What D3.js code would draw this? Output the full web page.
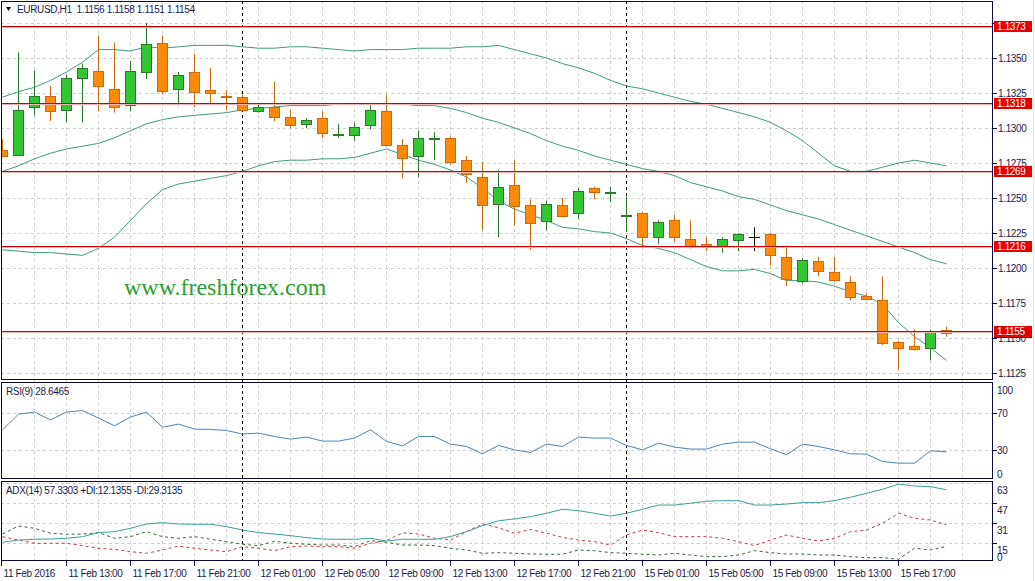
<!DOCTYPE html>
<html><head><meta charset="utf-8">
<script src="https://cdn.jsdelivr.net/npm/d3@7"></script>
<style>
html,body{margin:0;padding:0;background:#fff;overflow:hidden}
svg{display:block}
text{font-family:"Liberation Sans",Arial,sans-serif;font-size:10px;letter-spacing:-0.35px}
</style></head><body>
<script>
// ---------- DATA ----------
const times = [
 "11 Feb 09:00","11 Feb 10:00","11 Feb 11:00","11 Feb 12:00","11 Feb 13:00","11 Feb 14:00","11 Feb 15:00","11 Feb 16:00",
 "11 Feb 17:00","11 Feb 18:00","11 Feb 19:00","11 Feb 20:00","11 Feb 21:00","11 Feb 22:00","11 Feb 23:00",
 "12 Feb 00:00","12 Feb 01:00","12 Feb 02:00","12 Feb 03:00","12 Feb 04:00","12 Feb 05:00","12 Feb 06:00","12 Feb 07:00",
 "12 Feb 08:00","12 Feb 09:00","12 Feb 10:00","12 Feb 11:00","12 Feb 12:00","12 Feb 13:00","12 Feb 14:00","12 Feb 15:00",
 "12 Feb 16:00","12 Feb 17:00","12 Feb 18:00","12 Feb 19:00","12 Feb 20:00","12 Feb 21:00","12 Feb 22:00","12 Feb 23:00",
 "15 Feb 00:00","15 Feb 01:00","15 Feb 02:00","15 Feb 03:00","15 Feb 04:00","15 Feb 05:00","15 Feb 06:00","15 Feb 07:00",
 "15 Feb 08:00","15 Feb 09:00","15 Feb 10:00","15 Feb 11:00","15 Feb 12:00","15 Feb 13:00","15 Feb 14:00","15 Feb 15:00",
 "15 Feb 16:00","15 Feb 17:00","15 Feb 18:00","15 Feb 19:00","15 Feb 20:00"];
const open = [1.1284,1.1281,1.1315,1.1323,1.1313,1.1336,1.1341,1.1328,1.1317,1.1340,1.1361,1.1328,1.1340,1.1327,1.1323,
 1.1322,1.1312,1.1315,1.1308,1.1303,1.1307,1.1295,1.1295,1.1302,1.1312,1.1288,1.1280,1.1292,1.1293,1.1277,1.1265,
 1.1246,1.1259,1.1245,1.1234,1.1245,1.1239,1.1257,1.1253,1.1237,1.1239,1.1222,1.1234,1.1221,1.1217,1.1216,1.1220,
 1.1222,1.1224,1.1208,1.1191,1.1205,1.1197,1.1190,1.1180,1.1177,1.1147,1.1144,1.1143,1.1156];
const high = [1.1292,1.1354,1.1341,1.1330,1.1338,1.1346,1.1366,1.1361,1.1348,1.1375,1.1366,1.1340,1.1353,1.1343,1.1327,
 1.1324,1.1318,1.1333,1.1313,1.1307,1.1312,1.1303,1.1304,1.1318,1.1324,1.1292,1.1298,1.1297,1.1294,1.1280,1.1276,
 1.1270,1.1277,1.1249,1.1248,1.1250,1.1257,1.1258,1.1258,1.1251,1.1240,1.1234,1.1238,1.1234,1.1222,1.1222,1.1225,
 1.1229,1.1225,1.1216,1.1207,1.1208,1.1208,1.1194,1.1182,1.1194,1.1148,1.1156,1.1156,1.1158];
const low = [1.1279,1.1280,1.1309,1.1305,1.1304,1.1304,1.1312,1.1311,1.1312,1.1335,1.1324,1.1316,1.1315,1.1317,1.1313,
 1.1312,1.1311,1.1305,1.1300,1.1300,1.1293,1.1293,1.1291,1.1299,1.1287,1.1264,1.1265,1.1277,1.1274,1.1261,1.1227,
 1.1222,1.1230,1.1213,1.1227,1.1236,1.1235,1.1249,1.1247,1.1226,1.1215,1.1217,1.1219,1.1214,1.1212,1.1211,1.1212,
 1.1212,1.1202,1.1187,1.1189,1.1194,1.1190,1.1177,1.1177,1.1145,1.1127,1.1141,1.1134,1.1151];
const close = [1.1280,1.1313,1.1323,1.1312,1.1336,1.1343,1.1330,1.1315,1.1341,1.1360,1.1327,1.1338,1.1326,1.1325,1.1322,
 1.1313,1.1315,1.1308,1.1302,1.1306,1.1296,1.1296,1.1301,1.1313,1.1288,1.1279,1.1293,1.1293,1.1276,1.1267,1.1245,
 1.1258,1.1244,1.1232,1.1246,1.1237,1.1255,1.1254,1.1254,1.1238,1.1222,1.1233,1.1222,1.1216,1.1215,1.1221,1.1224,
 1.1222,1.1209,1.1192,1.1206,1.1198,1.1191,1.1179,1.1178,1.1146,1.1143,1.1142,1.1155,1.1154];
const bbUpper = [1.1322,1.1326,1.1329,1.1334,1.1340,1.1347,1.1356,1.1356,1.1355,1.1358,1.1357,1.1358,1.1359,1.1359,1.1359,
 1.1358,1.1357,1.1357,1.1358,1.1358,1.1357,1.1356,1.1355,1.1356,1.1356,1.1356,1.1357,1.1357,1.1357,1.1358,1.1358,
 1.1359,1.1356,1.1353,1.1350,1.1346,1.1343,1.1339,1.1334,1.1330,1.1328,1.1325,1.1322,1.1319,1.1317,1.1314,1.1311,
 1.1308,1.1304,1.1298,1.1291,1.1282,1.1273,1.1269,1.1269,1.1272,1.1275,1.1277,1.1275,1.1273];
const bbMiddle = [1.1269,1.1273,1.1278,1.1282,1.1285,1.1287,1.1289,1.1293,1.1298,1.1303,1.1306,1.1308,1.1309,1.1310,1.1311,
 1.1313,1.1314,1.1315,1.1316,1.1316,1.1316,1.1317,1.1317,1.1317,1.1317,1.1317,1.1316,1.1316,1.1314,1.1311,1.1307,
 1.1304,1.1300,1.1296,1.1291,1.1287,1.1284,1.1280,1.1277,1.1274,1.1271,1.1269,1.1266,1.1261,1.1258,1.1255,1.1251,
 1.1249,1.1245,1.1241,1.1238,1.1235,1.1231,1.1227,1.1223,1.1219,1.1215,1.1211,1.1206,1.1203];
const bbLower = [1.1213,1.1212,1.1211,1.1211,1.1210,1.1209,1.1214,1.1222,1.1234,1.1246,1.1256,1.1260,1.1262,1.1264,1.1266,
 1.1269,1.1273,1.1276,1.1277,1.1277,1.1278,1.1278,1.1279,1.1282,1.1285,1.1281,1.1277,1.1274,1.1270,1.1265,1.1257,
 1.1248,1.1242,1.1238,1.1234,1.1229,1.1228,1.1226,1.1225,1.1221,1.1216,1.1214,1.1211,1.1206,1.1201,1.1198,1.1198,
 1.1199,1.1196,1.1191,1.1191,1.1190,1.1187,1.1183,1.1180,1.1174,1.1161,1.1151,1.1143,1.1134];
const rsi = [51.8,68.3,70.4,62.3,70.4,72.1,64.1,56.0,65.2,70.4,54.6,57.8,52.5,52.2,51.1,47.3,48.3,44.7,42.0,44.1,
 39.9,39.9,43.1,51.8,39.5,34.9,44.7,44.7,36.7,34.2,26.5,35.3,30.7,27.9,36.7,34.2,44.1,43.1,43.1,35.3,
 30.7,37.8,33.6,31.5,31.5,36.7,38.8,38.8,31.8,25.5,36.7,34.2,30.7,26.5,26.2,18.4,16.7,16.7,29.7,28.6];
const adx = [15.3,17.1,17.7,17.9,18.5,19.8,23.0,23.8,26.5,29.9,31.0,29.9,29.7,29.7,27.8,25.1,23.0,21.9,20.6,19.0,
 17.9,17.7,17.7,18.5,16.3,17.7,17.7,17.7,19.8,23.8,28.6,32.5,34.0,35.8,38.5,41.7,40.6,38.5,36.3,38.5,
 41.7,45.1,45.1,46.5,48.1,48.6,48.6,45.1,45.1,45.9,47.0,47.0,48.6,51.3,54.5,57.7,61.7,60.3,59.8,57.3];
const plusDI = [21.9,28.3,26.5,22.5,21.7,21.9,23.0,18.5,19.8,23.8,19.8,18.5,19.8,17.7,15.8,13.7,12.6,16.1,14.5,13.7,
 13.1,13.1,11.8,16.6,15.3,13.1,13.1,12.6,10.5,9.1,6.5,7.0,6.5,5.9,5.7,5.7,9.1,8.6,7.0,6.5,
 5.7,5.1,6.5,5.1,3.8,3.8,5.1,8.6,7.0,5.9,5.9,5.1,5.1,3.8,3.0,3.0,1.7,10.5,9.1,12.1];
const minusDI = [19.8,17.1,14.5,14.5,14.5,12.6,10.5,9.7,7.8,6.5,9.1,12.3,10.5,9.1,7.8,11.8,10.5,8.6,11.8,12.3,
 11.8,11.8,10.5,14.5,16.6,22.9,21.9,18.5,17.1,23.8,29.9,27.0,22.5,25.6,22.5,19.2,17.1,15.8,13.1,21.1,
 25.1,23.0,19.8,19.8,19.8,18.5,15.8,12.6,17.1,21.1,18.5,16.3,18.5,23.8,25.1,30.5,38.5,34.5,33.1,29.3];
const levels = [1.1373, 1.1318, 1.1269, 1.1216, 1.1155];
const bid = 1.1154;
const priceTicks = [1.1125,1.1150,1.1175,1.1200,1.1225,1.1250,1.1275,1.1300,1.1325,1.1350,1.1375];
const priceTickLabels = ["1.1125","1.1150","1.1175","1.1200","1.1225","1.1250","1.1275","1.1300","1.1325","1.1350",""];
const rsiTicks = [100,70,30,0];
const adxTicks = [63,47,31,15,0];
const xTickBars = ["11 Feb 09:00","11 Feb 13:00","11 Feb 17:00","11 Feb 21:00","12 Feb 01:00","12 Feb 05:00","12 Feb 09:00",
 "12 Feb 13:00","12 Feb 17:00","12 Feb 21:00","15 Feb 01:00","15 Feb 05:00","15 Feb 09:00","15 Feb 13:00","15 Feb 17:00"];
const xTickLabels = ["11 Feb 2016","11 Feb 13:00","11 Feb 17:00","11 Feb 21:00","12 Feb 01:00","12 Feb 05:00","12 Feb 09:00",
 "12 Feb 13:00","12 Feb 17:00","12 Feb 21:00","15 Feb 01:00","15 Feb 05:00","15 Feb 09:00","15 Feb 13:00","15 Feb 17:00"];
const separators = ["12 Feb 00:00","15 Feb 00:00"];
const header = "EURUSD,H1  1.1156 1.1158 1.1151 1.1154";
const rsiTitle = "RSI(9) 28.6465";
const adxTitle = "ADX(14) 57.3303 +DI:12.1355 -DI:29.3135";
const watermark = "www.freshforex.com";

// ---------- LAYOUT ----------
const W = 1035, H = 581;
const L = 1, R = 993;
const P = {main:[1,380], rsi:[382,479], adx:[481,561]};
const frame = "#0b0b3b", axisText = "#1a1a4e", gridC = "#cfcfcf";
const svg = d3.select("body").append("svg").attr("width", W).attr("height", H);

const x = d3.scaleLinear().domain([0, times.length - 1]).range([2.5, 946.5]);
const y = d3.scaleLinear().domain([1.1120, 1.1390]).range([380, 2]);
const yR = d3.scaleLinear().domain([0, 100]).range([479, 384]);
const yA = d3.scaleLinear().domain([0, 64]).range([561.4, 481.4]);

const defs = svg.append("defs");
Object.entries(P).forEach(([k,[t,b]]) => {
  defs.append("clipPath").attr("id","clip-"+k).append("rect")
    .attr("x", L+0.5).attr("y", t+0.5).attr("width", R-L-1).attr("height", b-t-1);
});

// grids
const grid = svg.append("g").attr("stroke", gridC).attr("stroke-dasharray","3,3").attr("stroke-width",1);
const vIdx = d3.range(2, times.length + 1, 2);
vIdx.forEach(i => {
  grid.append("line").attr("x1", Math.floor(x(i))+0.5).attr("x2", Math.floor(x(i))+0.5)
    .attr("y1", P.main[0]).attr("y2", P.adx[1]);
});
priceTicks.forEach(p => grid.append("line").attr("x1", L).attr("x2", R)
  .attr("y1", Math.round(y(p))+0.5).attr("y2", Math.round(y(p))+0.5));
[70,30].forEach(v => grid.append("line").attr("x1", L).attr("x2", R)
  .attr("y1", Math.round(yR(v))+0.5).attr("y2", Math.round(yR(v))+0.5));
[63,47,31,15].forEach(v => grid.append("line").attr("x1", L).attr("x2", R)
  .attr("y1", Math.round(yA(v))+0.5).attr("y2", Math.round(yA(v))+0.5));

// watermark
svg.append("text").text(watermark).attr("x", 124).attr("y", 295)
  .style("font-family", "'Liberation Serif','Times New Roman',serif").style("font-size","24px")
  .style("letter-spacing","0px").attr("fill", "#2f9f2f");

// day separators
separators.forEach(s => {
  const xx = Math.floor(x(times.indexOf(s))) + 0.5;
  svg.append("line").attr("x1", xx).attr("x2", xx).attr("y1", 1).attr("y2", P.adx[1])
    .attr("stroke", "#000").attr("stroke-dasharray", "3,3");
});

// main panel
const gm = svg.append("g").attr("clip-path", "url(#clip-main)");
const band = d3.line().x((d,i) => x(i)).y(d => y(d));
[bbUpper, bbMiddle, bbLower].forEach(arr => gm.append("path").attr("d", band(arr))
  .attr("fill","none").attr("stroke","#3f9c7c").attr("stroke-width",1));

const idx = d3.range(times.length);
const bull = "#33c633", bullS = "#2b7a2b", bear = "#ff8a0a", bearS = "#d0680c";
const colorOf = i => close[i] > open[i] ? bullS : close[i] < open[i] ? bearS : "#000";
gm.selectAll("line.wick").data(idx).join("line").attr("class","wick")
  .attr("x1", i => x(i)).attr("x2", i => x(i))
  .attr("y1", i => y(high[i])).attr("y2", i => y(low[i]))
  .attr("stroke", colorOf).attr("stroke-width", 1);
gm.selectAll("rect.body").data(idx).join("rect").attr("class","body")
  .attr("x", i => x(i) - 5).attr("width", 10)
  .attr("y", i => Math.round(y(Math.max(open[i], close[i]))) + 0.5)
  .attr("height", i => Math.max(0.01, Math.round(Math.abs(y(open[i]) - y(close[i])))))
  .attr("fill", i => close[i] > open[i] ? bull : close[i] < open[i] ? bear : "none")
  .attr("stroke", colorOf).attr("stroke-width", 1);

// level lines (dark red row with a light halo row below)
levels.forEach(l => {
  const yy = Math.round(y(l)) + 0.5;
  gm.append("line").attr("x1", L).attr("x2", R).attr("y1", yy + 1).attr("y2", yy + 1)
    .attr("stroke", "#f2b4b4").attr("stroke-width", 1);
  gm.append("line").attr("x1", L).attr("x2", R).attr("y1", yy).attr("y2", yy)
    .attr("stroke", "#d00000").attr("stroke-width", 1);
});

// RSI
const gr = svg.append("g").attr("clip-path", "url(#clip-rsi)");
gr.append("path").attr("d", d3.line().x((d,i)=>x(i)).y(d=>yR(d))(rsi))
  .attr("fill","none").attr("stroke","#4a86b8").attr("stroke-width",1);

// ADX
const ga = svg.append("g").attr("clip-path", "url(#clip-adx)");
const la = d3.line().x((d,i)=>x(i)).y(d=>yA(d));
ga.append("path").attr("d", la(minusDI)).attr("fill","none").attr("stroke","#c83c3c").attr("stroke-dasharray","3,3");
ga.append("path").attr("d", la(plusDI)).attr("fill","none").attr("stroke","#2f6b2f").attr("stroke-dasharray","3,3");
ga.append("path").attr("d", la(adx)).attr("fill","none").attr("stroke","#3a9e9e").attr("stroke-width",1);

// frames
Object.values(P).forEach(([t,b]) => svg.append("rect").attr("x", L+0.5).attr("y", t+0.5)
  .attr("width", R-L-1).attr("height", b-t-1).attr("fill","none").attr("stroke", frame));

// right axis main
const ax = svg.append("g");
priceTicks.forEach((p,k) => {
  const yy = Math.round(y(p)) + 0.5;
  ax.append("line").attr("x1", R).attr("x2", R+4).attr("y1", yy).attr("y2", yy).attr("stroke", frame);
  ax.append("text").text(priceTickLabels[k]).attr("x", 998).attr("y", yy + 3.5).attr("fill", axisText);
});
// bid label
ax.append("rect").attr("x", 994).attr("y", y(bid) - 5.5).attr("width", 38).attr("height", 11).attr("fill", "#0b0b3b");
ax.append("text").text(d3.format(".4f")(bid)).attr("x", 997).attr("y", y(bid) + 3.5).attr("fill","#fff");
levels.forEach(l => {
  ax.append("rect").attr("x", 994).attr("y", Math.round(y(l)) - 5).attr("width", 38).attr("height", 11).attr("fill", "#e60000");
  ax.append("text").text(d3.format(".4f")(l)).attr("x", 997).attr("y", Math.round(y(l)) + 4).attr("fill", "#fff");
});
// RSI axis
rsiTicks.forEach(v => {
  const yy = Math.round(yR(v)) + 0.5;
  if (v > 0 && v < 100) ax.append("line").attr("x1", R).attr("x2", R+4).attr("y1", yy).attr("y2", yy).attr("stroke", frame);
  const ty = Math.min(Math.max(yy, P.rsi[0] + 8), P.rsi[1] - 5);
  ax.append("text").text(v).attr("x", 997).attr("y", ty + 3.5).attr("fill", axisText);
});
// ADX axis
adxTicks.forEach(v => {
  const yy = Math.round(yA(v)) + 0.5;
  if (v > 0 && v < 63) ax.append("line").attr("x1", R).attr("x2", R+4).attr("y1", yy).attr("y2", yy).attr("stroke", frame);
  const ty = Math.min(yy + 7, P.adx[1] - 4);
  ax.append("text").text(v).attr("x", 997).attr("y", ty + 3.5).attr("fill", axisText);
});

// bottom axis
xTickBars.forEach((b,k) => {
  const xx = Math.floor(x(times.indexOf(b))) + 0.5 - (k === 0 ? 1 : 0);
  ax.append("line").attr("x1", xx).attr("x2", xx).attr("y1", P.adx[1]).attr("y2", P.adx[1] + 5).attr("stroke", frame);
  ax.append("text").text(xTickLabels[k]).attr("x", xx + 2).attr("y", 577).attr("fill", axisText);
});

// titles
svg.append("path").attr("d", "M6,7 L11,7 L8.5,11 Z").attr("fill", "#0b0b3b");
svg.append("text").text(header).attr("x", 17).attr("y", 13).attr("fill", axisText).attr("xml:space","preserve").style("white-space","pre");
svg.append("text").text(rsiTitle).attr("x", 6).attr("y", 395).attr("fill", axisText);
svg.append("text").text(adxTitle).attr("x", 6).attr("y", 494).attr("fill", axisText);
// right edge light line
svg.append("line").attr("x1", 1033.5).attr("x2", 1033.5).attr("y1", 0).attr("y2", H).attr("stroke", "#e6e6e6");
</script>
</body></html>
